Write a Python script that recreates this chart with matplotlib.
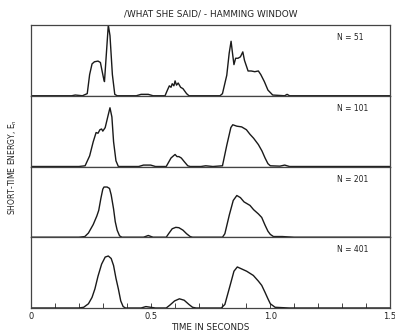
import matplotlib
matplotlib.use("Agg")
import matplotlib.pyplot as plt
from matplotlib.ticker import MultipleLocator, FixedLocator

title = "/WHAT SHE SAID/ - HAMMING WINDOW"
panel_labels = ["N = 51", "N = 101", "N = 201", "N = 401"]
xtick_values = [0, 0.5, 1.0, 1.5]
xtick_labels = ["0", "0.5", "1.0", "1.5"]

t51 = [0.0, 0.17, 0.185, 0.20, 0.215, 0.235, 0.245, 0.255, 0.265, 0.28, 0.29, 0.297, 0.303,
       0.307, 0.312, 0.323, 0.33, 0.34, 0.35, 0.36, 0.44, 0.46, 0.49, 0.51, 0.56, 0.57, 0.578,
       0.585, 0.59, 0.597, 0.602, 0.608, 0.615, 0.625, 0.635, 0.65, 0.66, 0.79, 0.80, 0.818,
       0.828, 0.836, 0.842, 0.848, 0.855, 0.865, 0.875, 0.885, 0.892, 0.9, 0.907, 0.92, 0.935,
       0.95, 0.96, 0.975, 0.99, 1.01, 1.06, 1.07, 1.08, 1.5]
e51 = [0, 0, 0.01, 0.005, 0, 0.03, 0.3, 0.45, 0.48, 0.49, 0.47, 0.35, 0.25,
       0.2, 0.45, 1.0, 0.85, 0.3, 0.02, 0, 0, 0.02, 0.02, 0, 0, 0.08, 0.14,
       0.12, 0.17, 0.14, 0.21, 0.15, 0.18, 0.12, 0.1, 0.03, 0, 0, 0.03, 0.29,
       0.6, 0.77, 0.6, 0.44, 0.53, 0.53, 0.55, 0.62, 0.5, 0.42, 0.35, 0.35, 0.34,
       0.35, 0.3, 0.2, 0.08, 0.01, 0, 0.02, 0, 0]

t101 = [0.0, 0.2, 0.226, 0.245, 0.26, 0.272, 0.28, 0.288, 0.295, 0.30, 0.31, 0.322, 0.33,
        0.338, 0.345, 0.355, 0.365, 0.45, 0.47, 0.5, 0.52, 0.565, 0.575, 0.585, 0.595, 0.602,
        0.61, 0.618, 0.628, 0.64, 0.655, 0.665, 0.71, 0.73, 0.76, 0.80, 0.818, 0.835, 0.843,
        0.86, 0.88, 0.9, 0.915, 0.93, 0.95, 0.965, 0.978, 0.99, 1.0, 1.04, 1.06, 1.08, 1.5]
e101 = [0, 0, 0.01, 0.15, 0.35, 0.48, 0.47, 0.52, 0.53, 0.5, 0.55, 0.72, 0.83,
        0.7, 0.35, 0.08, 0, 0, 0.02, 0.02, 0, 0, 0.06, 0.12, 0.15, 0.17,
        0.14, 0.14, 0.12, 0.07, 0.01, 0, 0, 0.01, 0, 0.01, 0.3, 0.55, 0.59,
        0.57, 0.56, 0.52, 0.455, 0.4, 0.31, 0.22, 0.12, 0.04, 0.01, 0.005, 0.02, 0, 0]

t201 = [0.0, 0.2, 0.225, 0.24, 0.26, 0.275, 0.283, 0.292, 0.30, 0.305, 0.318, 0.328, 0.335,
        0.345, 0.352, 0.36, 0.37, 0.38, 0.47, 0.49, 0.51, 0.565, 0.575, 0.59, 0.605, 0.618,
        0.635, 0.65, 0.665, 0.675, 0.80, 0.81, 0.829, 0.845, 0.86, 0.875, 0.89, 0.905, 0.915,
        0.93, 0.95, 0.964, 0.978, 0.99, 1.0, 1.013, 1.05, 1.1, 1.5]
e201 = [0, 0, 0.01, 0.06, 0.18, 0.3, 0.38, 0.55, 0.68, 0.71, 0.71, 0.69, 0.6,
        0.4, 0.22, 0.1, 0.02, 0, 0, 0.025, 0, 0, 0.05, 0.12, 0.14, 0.135,
        0.1, 0.05, 0.01, 0, 0, 0.05, 0.32, 0.52, 0.59, 0.56, 0.5, 0.47, 0.45,
        0.39, 0.33, 0.28, 0.17, 0.085, 0.04, 0.01, 0.01, 0, 0]

t401 = [0.0, 0.2, 0.22, 0.24, 0.255, 0.267, 0.28, 0.295, 0.31, 0.323, 0.335, 0.345, 0.355,
        0.365, 0.375, 0.385, 0.395, 0.46, 0.48, 0.5, 0.52, 0.565, 0.58, 0.6, 0.62, 0.64, 0.66,
        0.675, 0.69, 0.795, 0.81, 0.832, 0.848, 0.862, 0.875, 0.901, 0.929, 0.95, 0.964,
        0.978, 0.99, 1.0, 1.02, 1.08, 1.5]
e401 = [0, 0, 0.01, 0.06, 0.15, 0.27, 0.45, 0.62, 0.72, 0.735, 0.7, 0.6, 0.42,
        0.27, 0.1, 0.02, 0, 0, 0.02, 0.01, 0, 0, 0.04, 0.1, 0.13, 0.11, 0.05,
        0.01, 0, 0, 0.05, 0.32, 0.52, 0.58, 0.56, 0.52, 0.46, 0.38, 0.32,
        0.22, 0.13, 0.06, 0.01, 0, 0]

series = [(t51, e51), (t101, e101), (t201, e201), (t401, e401)]

W, H = 395, 333
fig = plt.figure(figsize=(W / 100, H / 100), dpi=100)
fig.patch.set_facecolor("white")

left_px, right_px, top_px, bot_px = 31, 390, 25, 308
ph = (bot_px - top_px) / 4.0
fs = 5.5
tc = "#222222"
edge = "#444444"

for i, ((t, e), lab) in enumerate(zip(series, panel_labels)):
    y_top = top_px + i * ph
    ax = fig.add_axes([left_px / W, 1 - (y_top + ph) / H, (right_px - left_px) / W, ph / H])
    ax.plot(t, e, color="#1a1a1a", lw=1.0)
    ax.set_xlim(0, 1.5)
    ax.set_ylim(0, 1.0)
    ax.set_yticks([])
    for s in ax.spines.values():
        s.set_color(edge)
        s.set_linewidth(0.9)
    ax.text(0.852, 0.82, lab, transform=ax.transAxes, fontsize=fs, color=tc,
            va="center", ha="left")
    if i < 3:
        ax.set_xticks([])
    else:
        ax.xaxis.set_major_locator(FixedLocator(xtick_values))
        ax.set_xticklabels(xtick_labels)
        ax.xaxis.set_minor_locator(MultipleLocator(0.1))
        ax.tick_params(axis="x", which="both", direction="in", length=3.5, width=0.7,
                       color=edge, labelsize=fs + 0.5, pad=3, labelcolor=tc)

fig.text((left_px + right_px) / 2 / W, 1 - 14 / H, title, ha="center", va="center",
         fontsize=6.4, color=tc)
fig.text((left_px + right_px) / 2 / W, 1 - 327 / H, "TIME IN SECONDS", ha="center",
         va="center", fontsize=6.3, color=tc)
fig.text(13 / W, 1 - ((top_px + bot_px) / 2) / H, "SHORT-TIME ENERGY, E$_n$", rotation=90,
         ha="center", va="center", fontsize=fs, color=tc)

fig.savefig("out.png", dpi=100, facecolor="white")
